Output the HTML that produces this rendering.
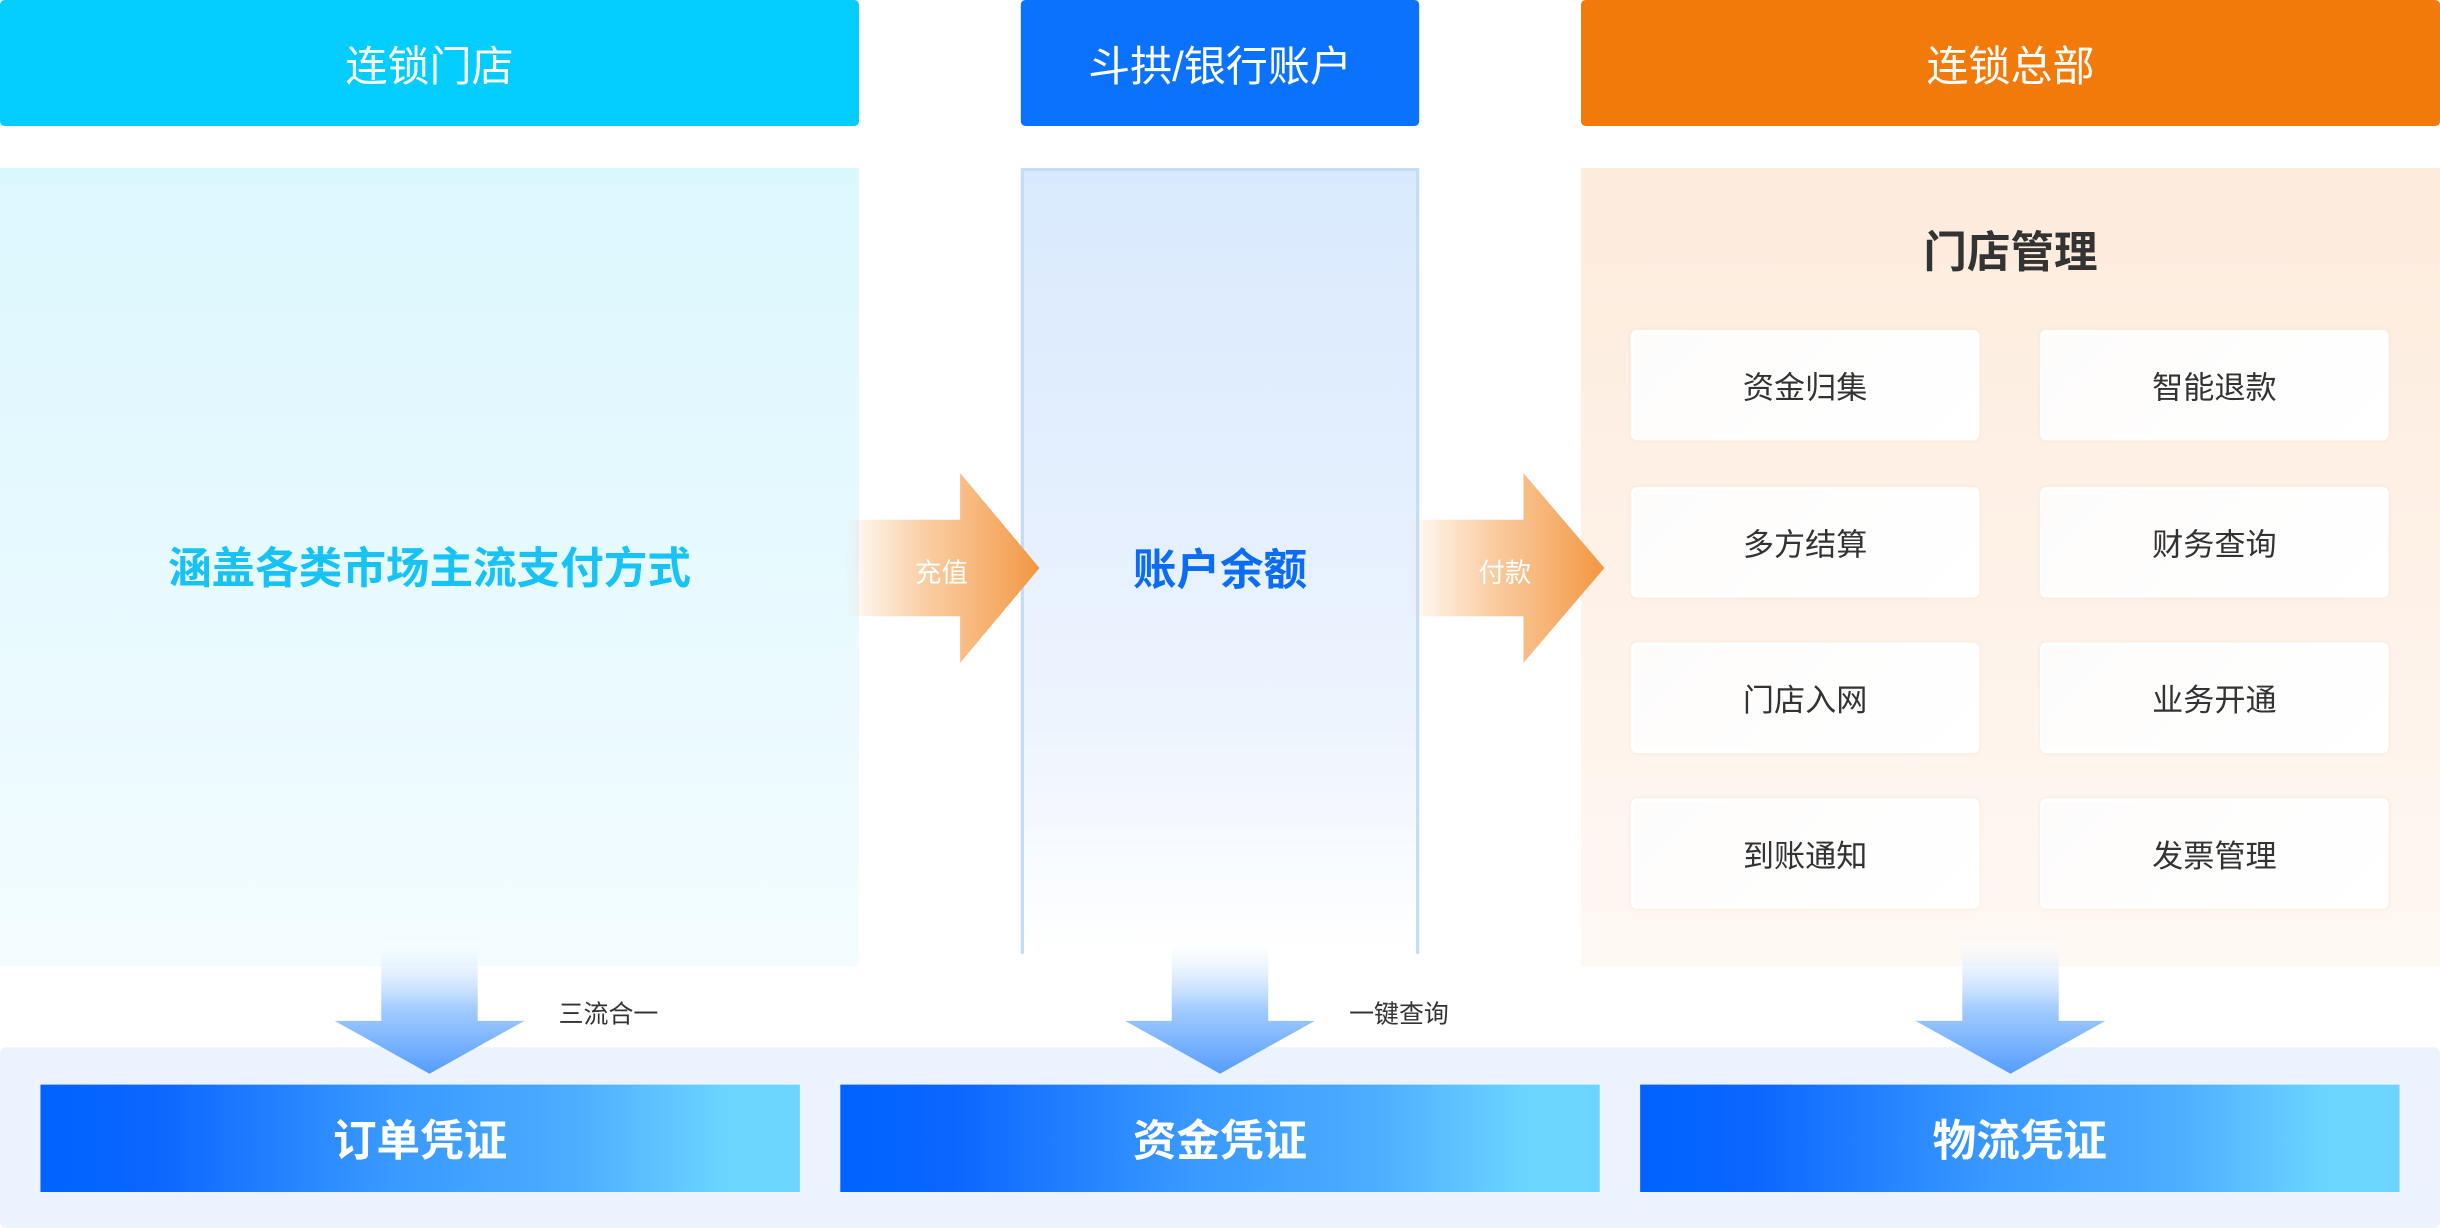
<!DOCTYPE html>
<html><head><meta charset="utf-8">
<style>
html,body{margin:0;padding:0;background:#fff;width:2440px;height:1228px;overflow:hidden}
#w{position:absolute;left:0;top:0;width:1568px;height:789px;transform:scale(1.55612);transform-origin:0 0;font-family:"Liberation Sans","Noto Sans CJK SC",sans-serif}
.a{position:absolute;box-sizing:border-box}
.hd{top:0;height:81px;border-radius:3px;color:#fff;font-size:27px;display:flex;align-items:center;justify-content:center}
.card{width:224px;height:71px;background:linear-gradient(135deg,#fdfcfb,#ffffff);border:2px solid #fff;border-radius:4px;box-shadow:0 0 2px rgba(240,220,200,.6);display:flex;align-items:center;justify-content:center;font-size:20px;color:#333}
.btn{top:697px;width:488px;height:69px;background:linear-gradient(90deg,#0062ff 0%,#0a66ff 15%,#3898ff 45%,#4cacff 70%,#6bd4ff 90%,#6bd5ff 100%);color:#fff;font-size:28px;font-weight:bold;display:flex;align-items:center;justify-content:center}
.lbl{font-size:16px;color:#333}
</style></head><body>
<div id="w">
<div class="a hd" style="left:0;width:552px;background:#02cdfe">连锁门店</div>
<div class="a hd" style="left:656px;width:256px;background:#0a72fd">斗拱/银行账户</div>
<div class="a hd" style="left:1016px;width:552px;background:#f27a0b">连锁总部</div>

<div class="a" style="left:0;top:108px;width:552px;height:513px;background:linear-gradient(180deg,#dbf7fe,#f3fcff)"></div>
<div class="a" style="left:0;top:344px;width:552px;text-align:center;font-size:28px;color:#17c2f5;font-weight:600">涵盖各类市场主流支付方式</div>

<div class="a" style="left:656px;top:108px;width:256px;height:505px;border:2px solid #c2dcf8;border-bottom:none;background:linear-gradient(180deg,#d9e9fd,#edf4fe 70%,#ffffff)"></div>
<div class="a" style="left:656px;top:345px;width:256px;text-align:center;font-size:28px;color:#0b6cf6;font-weight:bold">账户余额</div>

<div class="a" style="left:1016px;top:108px;width:552px;height:513px;background:linear-gradient(180deg,#fdebdc,#fef8f3)"></div>
<div class="a" style="left:1016px;top:141px;width:552px;text-align:center;font-size:28px;color:#333;font-weight:bold">门店管理</div>
<div class="a card" style="left:1048px;top:212px">资金归集</div>
<div class="a card" style="left:1311px;top:212px">智能退款</div>
<div class="a card" style="left:1048px;top:313px">多方结算</div>
<div class="a card" style="left:1311px;top:313px">财务查询</div>
<div class="a card" style="left:1048px;top:413px">门店入网</div>
<div class="a card" style="left:1311px;top:413px">业务开通</div>
<div class="a card" style="left:1048px;top:513px">到账通知</div>
<div class="a card" style="left:1311px;top:513px">发票管理</div>

<svg class="a" style="left:0;top:0" width="1568" height="789">
<defs>
<linearGradient id="og" x1="0" x2="1" y1="0" y2="0"><stop offset="0" stop-color="#f9b77a" stop-opacity="0"/><stop offset=".45" stop-color="#f8bd85" stop-opacity=".8"/><stop offset="1" stop-color="#f39640"/></linearGradient>
<linearGradient id="bg" x1="0" x2="0" y1="0" y2="1"><stop offset="0" stop-color="#ffffff" stop-opacity=".3"/><stop offset=".5" stop-color="#a5cdff"/><stop offset="1" stop-color="#559dfd"/></linearGradient>
</defs>
<polygon points="543,334 617,334 617,304 668,365 617,426 617,396 543,396" fill="url(#og)"/>
<polygon points="905,334 979,334 979,304 1031,365 979,426 979,396 905,396" fill="url(#og)"/>
</svg>
<div class="a" style="left:580px;top:354px;width:50px;text-align:center;color:#fff;font-size:17px">充值</div>
<div class="a" style="left:942px;top:354px;width:50px;text-align:center;color:#fff;font-size:17px">付款</div>

<div class="a" style="left:0;top:673px;width:1568px;height:116px;background:#ebf3fe;border-radius:4px"></div>
<svg class="a" style="left:0;top:0" width="1568" height="789">
<g fill="url(#bg)">
<polygon points="245,605 307,605 307,656 337,656 276,690 215,656 245,656"/>
<polygon points="753,605 815,605 815,656 845,656 784,690 723,656 753,656"/>
<polygon points="1261,605 1323,605 1323,656 1353,656 1292,690 1231,656 1261,656"/>
</g>
</svg>
<div class="a lbl" style="left:359px;top:638px">三流合一</div>
<div class="a lbl" style="left:867px;top:638px">一键查询</div>

<div class="a btn" style="left:26px">订单凭证</div>
<div class="a btn" style="left:540px">资金凭证</div>
<div class="a btn" style="left:1054px">物流凭证</div>
</div>
</body></html>
